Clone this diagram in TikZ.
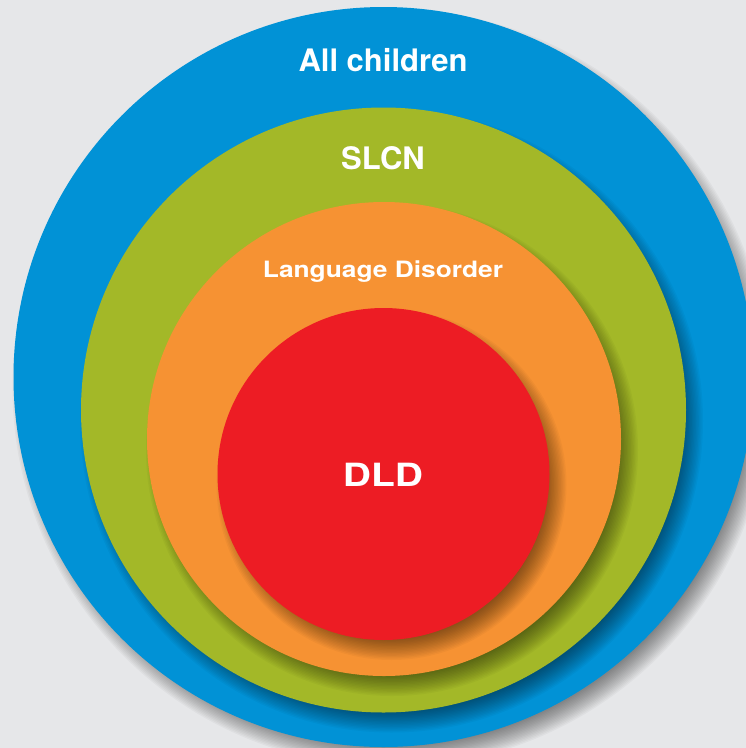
\documentclass[tikz,border=0pt]{standalone}
\usepackage{fontspec}
\setmainfont{TeX Gyre Heros}
\definecolor{bgc}{HTML}{E6E7E9}
\definecolor{cblue}{HTML}{0192D6}
\definecolor{cgreen}{HTML}{A3B828}
\definecolor{corange}{HTML}{F69233}
\definecolor{cred}{HTML}{ED1C24}
\newcommand{\softshadow}[3]{%
  \foreach \k in {0,...,15}{%
    \fill[black,opacity=0.03] ($(#1,#2)+(8,11)$) circle[radius={#3-12+1.4*\k}];
  }}
\usetikzlibrary{calc}
\begin{document}
\begin{tikzpicture}[x=1pt,y=-1pt,
  ring/.style={circle,inner sep=0pt,draw=none},
  lbl/.style={text=white,inner sep=0pt,anchor=base}]
\useasboundingbox (0,0) rectangle (746,748);
\clip (0,0) rectangle (746,748);
\fill[bgc] (0,0) rectangle (746,748);
\softshadow{383.5}{377}{370}
\node[ring,fill=cblue,minimum size=740pt] (blue) at (383.5,377) {};
\softshadow{383.5}{410}{302.5}
\node[ring,fill=cgreen,minimum size=605pt] (green) at (383.5,410) {};
\softshadow{384}{439}{237}
\node[ring,fill=corange,minimum size=474pt] (orange) at (384,439) {};
\softshadow{383.5}{474}{166}
\node[ring,fill=cred,minimum size=332pt] (red) at (383.5,474) {};
\node[lbl,font=\fontsize{31}{36}\selectfont\bfseries] (tall) at (383,71) {All children};
\node[lbl,font=\fontsize{31}{36}\selectfont\bfseries] (tslcn) at (383,169) {SLCN};
\node[lbl,font=\fontsize{22.5}{26}\selectfont\bfseries] (tlang) at (383,277) {\scalebox{1.17}[1]{Language Disorder}};
\node[lbl,font=\fontsize{32}{38}\selectfont\bfseries] (tdld) at (383,486) {\scalebox{1.22}[1]{DLD}};
\end{tikzpicture}
\end{document}
